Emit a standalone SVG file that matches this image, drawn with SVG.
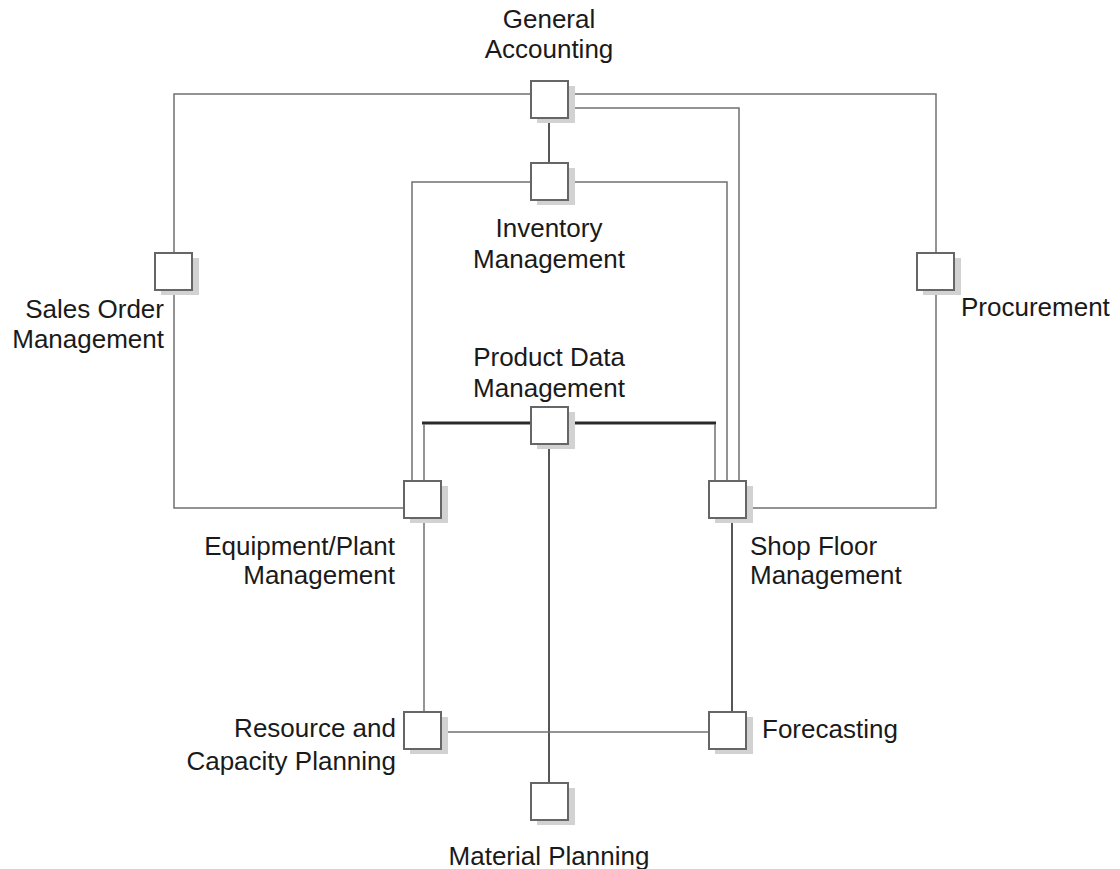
<svg xmlns="http://www.w3.org/2000/svg" width="1120" height="869" viewBox="0 0 1120 869">
  <style>
    .bg { fill: #ffffff; }
    .lnk { fill: none; stroke: #707070; stroke-width: 1.5; }
    .dk { fill: none; stroke: #1e1e1e; stroke-width: 1.5; }
    .bus { fill: none; stroke: #2a2a2a; stroke-width: 3; }
    .shadow { fill: #d2d2d2; }
    .box { fill: #ffffff; stroke: #666666; stroke-width: 2; }
    text { font-family: "Liberation Sans", Arial, sans-serif; font-size: 26px; fill: #1a1a1a; }
    .mid { text-anchor: middle; }
    .end { text-anchor: end; }
  </style>
  <defs>
    <g id="module">
      <rect class="shadow" x="6" y="5" width="38" height="37"/>
      <rect class="box" x="0" y="0" width="37" height="37"/>
    </g>
  </defs>
  <rect class="bg" x="0" y="0" width="1120" height="869"/>

  <g id="connectors">
    <!-- General Accounting to Sales Order Management -->
    <polyline class="lnk" points="531,94 174,94 174,253"/>
    <!-- General Accounting to Procurement -->
    <polyline class="lnk" points="568,94 936,94 936,253"/>
    <!-- General Accounting to Shop Floor Management -->
    <polyline class="lnk" points="568,108 739,108 739,481"/>
    <!-- General Accounting to Inventory Management -->
    <line class="dk" x1="549" y1="118" x2="549" y2="163"/>
    <!-- Inventory Management to Equipment/Plant and Shop Floor -->
    <polyline class="lnk" points="531,182 412,182 412,481"/>
    <polyline class="lnk" points="568,182 727,182 727,481"/>
    <!-- Sales Order Management to Equipment/Plant Management -->
    <polyline class="lnk" points="174,291 174,508 404,508"/>
    <!-- Procurement to Shop Floor Management -->
    <polyline class="lnk" points="936,291 936,508 746,508"/>
    <!-- Product Data Management bus -->
    <line class="bus" x1="422" y1="423" x2="531" y2="423"/>
    <line class="bus" x1="568" y1="423" x2="716" y2="423"/>
    <line class="lnk" x1="424" y1="424" x2="424" y2="481"/>
    <line class="lnk" x1="715" y1="424" x2="715" y2="481"/>
    <!-- Product Data Management to Material Planning -->
    <line class="dk" x1="549" y1="444" x2="549" y2="783"/>
    <!-- Equipment/Plant to Resource and Capacity Planning -->
    <line class="lnk" x1="424" y1="518" x2="424" y2="712"/>
    <!-- Shop Floor to Forecasting -->
    <line class="dk" x1="732" y1="518" x2="732" y2="712"/>
    <!-- Resource and Capacity Planning to Forecasting -->
    <line class="lnk" x1="442" y1="732" x2="709" y2="732"/>
  </g>

  <g id="general-accounting">
    <use href="#module" x="531" y="81"/>
    <text class="mid" x="549" y="28">General</text>
    <text class="mid" x="549" y="58">Accounting</text>
  </g>
  <g id="inventory-management">
    <use href="#module" x="531" y="163"/>
    <text class="mid" x="549" y="237">Inventory</text>
    <text class="mid" x="549" y="268">Management</text>
  </g>
  <g id="sales-order-management">
    <use href="#module" x="155" y="253"/>
    <text class="end" x="164" y="318">Sales Order</text>
    <text class="end" x="164" y="348">Management</text>
  </g>
  <g id="procurement">
    <use href="#module" x="917" y="253"/>
    <text x="961" y="316">Procurement</text>
  </g>
  <g id="product-data-management">
    <use href="#module" x="531" y="407"/>
    <text class="mid" x="549" y="366">Product Data</text>
    <text class="mid" x="549" y="397">Management</text>
  </g>
  <g id="equipment-plant-management">
    <use href="#module" x="404" y="481"/>
    <text class="end" x="395" y="555">Equipment/Plant</text>
    <text class="end" x="395" y="584">Management</text>
  </g>
  <g id="shop-floor-management">
    <use href="#module" x="709" y="481"/>
    <text x="750" y="555">Shop Floor</text>
    <text x="750" y="584">Management</text>
  </g>
  <g id="resource-capacity-planning">
    <use href="#module" x="404" y="712"/>
    <text class="end" x="396" y="737">Resource and</text>
    <text class="end" x="396" y="770">Capacity Planning</text>
  </g>
  <g id="forecasting">
    <use href="#module" x="709" y="712"/>
    <text x="762" y="738">Forecasting</text>
  </g>
  <g id="material-planning">
    <use href="#module" x="531" y="783"/>
    <text class="mid" x="549" y="865">Material Planning</text>
  </g>
</svg>
